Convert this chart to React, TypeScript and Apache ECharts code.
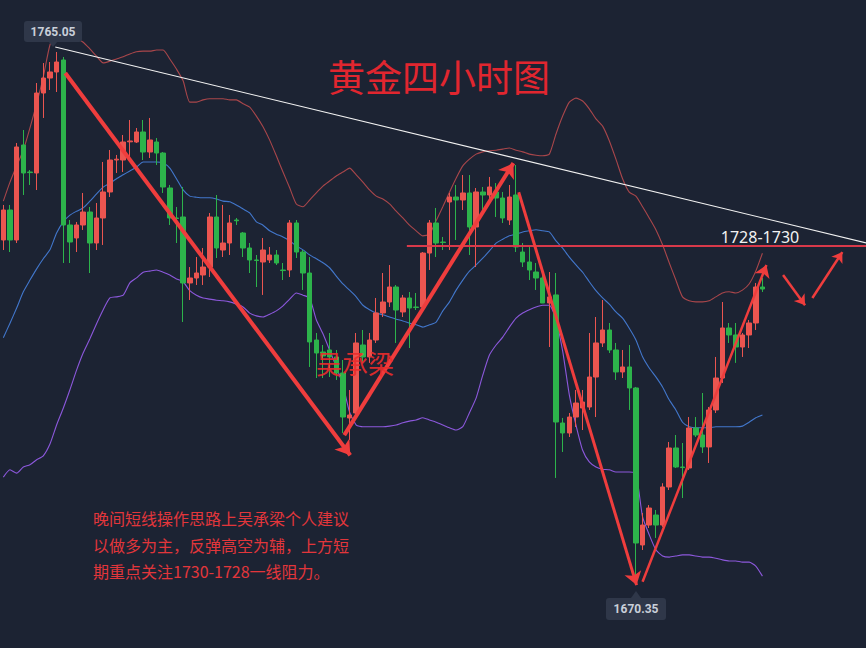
import { useEffect, useRef } from 'react';
import * as echarts from 'echarts';

// 4-hour gold candles: [open, close, low, high]
const candles: number[][] = [
  [1731.46, 1736.82, 1729.67, 1737.72], [1736.82, 1731.46, 1729.31, 1737.72], [1731.46, 1748.08, 1730.92, 1748.79],
  [1748.43, 1743.43, 1739.5, 1751.11], [1743.61, 1743.5, 1741.29, 1743.97], [1743.43, 1757.72, 1740.39, 1759.51],
  [1757.72, 1760.4, 1753.26, 1763.08], [1760.4, 1761.48, 1758.26, 1763.26], [1761.48, 1763.26, 1757.9, 1765.05],
  [1763.62, 1734.14, 1727.35, 1764.16], [1734.14, 1731.1, 1727.35, 1735.03], [1731.82, 1734.14, 1729.31, 1734.68],
  [1734.14, 1736.46, 1733.25, 1739.86], [1736.46, 1730.92, 1725.56, 1737.36], [1730.92, 1735.39, 1729.67, 1738.07],
  [1735.39, 1740.04, 1730.57, 1745.4], [1740.04, 1745.75, 1739.14, 1747.54], [1745.75, 1745.9, 1743.43, 1746.65],
  [1745.75, 1748.97, 1743.61, 1750.22], [1749.0, 1749.15, 1746.29, 1752.9], [1748.97, 1750.76, 1748.79, 1751.47],
  [1750.76, 1747.18, 1745.75, 1752.9], [1747.18, 1749.33, 1746.11, 1753.26], [1748.97, 1747.0, 1744.86, 1749.68],
  [1747.0, 1740.93, 1739.86, 1747.18], [1740.75, 1735.39, 1734.14, 1741.29], [1735.39, 1735.3, 1730.92, 1737.36],
  [1735.57, 1723.78, 1716.81, 1740.93], [1723.78, 1724.67, 1720.74, 1726.63], [1724.67, 1725.56, 1723.42, 1728.42],
  [1725.21, 1726.63, 1723.42, 1730.03], [1726.63, 1735.57, 1724.85, 1736.28], [1735.57, 1730.03, 1728.24, 1739.5],
  [1729.67, 1730.92, 1728.42, 1737.72], [1730.92, 1734.5, 1728.78, 1735.93], [1735.03, 1734.9, 1734.14, 1735.39],
  [1732.71, 1730.03, 1728.42, 1732.89], [1730.03, 1727.89, 1725.56, 1730.92], [1727.89, 1727.8, 1723.06, 1728.78],
  [1727.53, 1729.67, 1721.64, 1731.82], [1727.89, 1728.78, 1727.35, 1730.21], [1728.78, 1727.35, 1726.99, 1729.67],
  [1726.1, 1726.0, 1724.31, 1727.35], [1726.1, 1734.5, 1724.85, 1735.03], [1734.5, 1729.31, 1728.24, 1735.03],
  [1729.31, 1725.56, 1722.53, 1729.67], [1725.56, 1713.24, 1708.77, 1728.42], [1713.59, 1711.27, 1706.8, 1714.84],
  [1711.45, 1710.74, 1706.8, 1712.7], [1711.81, 1710.56, 1706.98, 1714.84], [1710.56, 1707.7, 1706.45, 1711.81],
  [1707.7, 1699.83, 1696.98, 1710.02], [1699.66, 1700.19, 1695.73, 1704.66], [1700.55, 1713.06, 1699.83, 1714.84],
  [1712.7, 1710.56, 1709.5, 1715.38], [1710.56, 1713.59, 1709.5, 1714.84], [1713.59, 1718.42, 1713.06, 1721.1],
  [1718.42, 1720.38, 1717.7, 1725.56], [1720.38, 1723.06, 1719.49, 1726.99], [1723.06, 1718.95, 1713.06, 1723.42],
  [1718.6, 1721.1, 1717.7, 1721.64], [1721.1, 1719.31, 1712.16, 1722.17], [1719.49, 1719.4, 1718.95, 1721.99],
  [1719.49, 1729.13, 1719.31, 1729.31], [1729.13, 1734.5, 1726.1, 1735.03], [1734.5, 1730.92, 1728.42, 1737.18],
  [1731.1, 1731.0, 1729.67, 1732.0], [1738.25, 1739.14, 1729.67, 1739.86], [1739.14, 1738.61, 1731.46, 1741.29],
  [1738.61, 1739.86, 1736.82, 1743.07], [1739.86, 1733.78, 1728.78, 1743.07], [1733.78, 1740.04, 1726.63, 1740.75],
  [1740.04, 1739.5, 1736.82, 1740.93], [1739.5, 1740.93, 1738.61, 1742.72], [1740.04, 1738.96, 1735.57, 1741.64],
  [1738.96, 1735.39, 1734.5, 1740.04], [1735.03, 1739.14, 1734.14, 1741.29], [1739.5, 1730.21, 1729.31, 1744.86],
  [1729.31, 1727.53, 1726.63, 1730.92], [1727.53, 1726.1, 1724.31, 1730.21], [1725.74, 1724.67, 1722.53, 1727.35],
  [1724.67, 1720.2, 1720.2, 1726.1], [1720.2, 1721.28, 1712.34, 1725.74], [1721.64, 1698.94, 1688.94, 1725.56],
  [1698.76, 1696.98, 1693.58, 1699.66], [1696.98, 1699.83, 1696.26, 1700.55], [1699.83, 1702.33, 1698.05, 1704.66],
  [1701.44, 1702.51, 1697.51, 1704.66], [1701.62, 1706.98, 1701.09, 1714.84], [1706.98, 1713.06, 1699.83, 1717.7],
  [1713.06, 1715.38, 1712.34, 1720.74], [1715.38, 1711.81, 1711.27, 1716.63], [1711.81, 1707.88, 1706.45, 1713.06],
  [1707.88, 1708.77, 1706.8, 1711.81], [1708.77, 1705.02, 1701.09, 1712.7], [1705.02, 1677.32, 1670.35, 1705.2],
  [1676.97, 1680.53, 1676.07, 1682.68], [1680.53, 1683.57, 1680.0, 1684.1], [1682.32, 1680.53, 1678.22, 1683.22],
  [1680.53, 1687.33, 1680.2, 1688.0], [1687.33, 1694.3, 1686.79, 1695.37], [1694.3, 1690.9, 1690.72, 1696.62],
  [1690.9, 1690.8, 1685.36, 1695.19], [1690.72, 1697.87, 1690.37, 1699.83], [1697.87, 1696.62, 1696.26, 1699.83],
  [1696.62, 1694.48, 1693.4, 1704.12], [1694.48, 1701.09, 1691.62, 1701.62], [1701.09, 1706.8, 1700.55, 1710.56],
  [1706.8, 1715.74, 1705.91, 1720.38], [1715.74, 1714.49, 1713.06, 1716.63], [1714.49, 1712.34, 1709.5, 1716.63],
  [1712.34, 1714.49, 1710.56, 1714.84], [1714.49, 1716.63, 1712.16, 1717.17], [1716.63, 1723.06, 1715.38, 1723.78],
  [1723.06, 1722.7, 1722.17, 1724.67],
];

// Bollinger bands
const upperBand = [
  1738.4, 1741.8, 1744.7, 1747.5, 1751.5, 1755.8, 1760.6, 1766.3, 1768.6, 1768.1,
  1767.7, 1767.4, 1766.8, 1765.6, 1764.3, 1763.1, 1763.4, 1763.8, 1764.2, 1764.7,
  1765.1, 1765.2, 1765.2, 1765.4, 1765.4, 1763.8, 1762.0, 1759.9, 1756.1, 1756.1,
  1756.5, 1756.7, 1756.7, 1756.7, 1756.5, 1756.5, 1755.8, 1755.2, 1753.6, 1751.7,
  1749.3, 1746.5, 1743.6, 1740.8, 1737.9, 1737.4, 1738.6, 1739.9, 1741.1, 1742.0,
  1742.9, 1743.6, 1744.3, 1743.1, 1741.8, 1740.4, 1739.3, 1738.8, 1737.9, 1736.6,
  1735.4, 1734.1, 1733.1, 1732.2, 1732.5, 1734.9, 1737.4, 1740.0, 1742.5, 1744.7,
  1745.9, 1746.8, 1747.2, 1747.4, 1747.5, 1747.7, 1747.9, 1747.5, 1747.2, 1746.8,
  1746.6, 1746.5, 1746.8, 1750.4, 1753.6, 1756.1, 1756.8, 1756.3, 1754.9, 1753.1,
  1751.8, 1749.2, 1745.9, 1742.4, 1740.0, 1739.3, 1737.4, 1735.4, 1733.3, 1730.6,
  1727.4, 1724.3, 1721.3, 1720.6, 1720.4, 1720.4, 1720.6, 1721.3, 1722.0, 1722.2,
  1722.0, 1722.5, 1723.6, 1725.9, 1729.1,
];
const middleBand = [
  1714.0, 1716.6, 1719.3, 1722.2, 1724.3, 1726.3, 1728.1, 1729.7, 1732.7, 1734.7,
  1735.9, 1736.6, 1737.2, 1738.4, 1739.7, 1740.9, 1741.6, 1742.4, 1743.1, 1743.8,
  1744.5, 1745.4, 1745.4, 1745.4, 1745.2, 1744.3, 1742.4, 1740.4, 1739.3, 1739.1,
  1739.0, 1739.0, 1738.8, 1738.4, 1738.3, 1737.7, 1737.0, 1736.3, 1734.7, 1734.1,
  1733.1, 1732.5, 1732.0, 1731.3, 1730.4, 1729.7, 1728.8, 1728.1, 1727.4, 1726.5,
  1725.0, 1723.6, 1722.5, 1721.3, 1719.8, 1719.0, 1718.4, 1718.1, 1717.7, 1717.3,
  1717.0, 1716.6, 1716.3, 1715.9, 1716.3, 1716.8, 1718.8, 1720.4, 1722.5, 1724.3,
  1725.9, 1727.0, 1728.2, 1729.5, 1730.9, 1731.6, 1732.2, 1732.5, 1732.9, 1733.1,
  1733.3, 1733.1, 1732.9, 1731.3, 1730.0, 1728.4, 1727.0, 1725.7, 1724.0, 1722.4,
  1721.1, 1720.0, 1718.6, 1717.5, 1715.7, 1713.6, 1710.6, 1708.6, 1707.0, 1705.2,
  1702.9, 1701.1, 1698.9, 1698.1, 1697.9, 1697.9, 1697.9, 1698.1, 1698.1, 1698.1,
  1698.1, 1698.2, 1698.9, 1699.7, 1700.2,
];
const lowerBand = [
  1689.1, 1690.4, 1689.8, 1690.9, 1691.3, 1692.2, 1692.9, 1695.0, 1698.4, 1701.4,
  1704.7, 1708.2, 1711.3, 1713.8, 1716.5, 1719.0, 1721.1, 1721.3, 1721.6, 1723.8,
  1724.7, 1725.7, 1725.9, 1726.1, 1725.7, 1725.2, 1724.5, 1724.0, 1722.4, 1721.6,
  1721.1, 1720.9, 1720.7, 1720.6, 1720.4, 1720.0, 1719.5, 1718.4, 1717.9, 1717.7,
  1718.2, 1718.8, 1719.7, 1720.9, 1722.0, 1721.6, 1721.1, 1717.2, 1714.7, 1711.8,
  1708.8, 1705.6, 1700.7, 1698.4, 1698.1, 1698.1, 1698.1, 1698.1, 1698.2, 1698.4,
  1698.8, 1699.1, 1699.3, 1699.7, 1699.3, 1698.9, 1698.4, 1697.9, 1697.5, 1698.1,
  1700.6, 1703.2, 1707.3, 1710.9, 1712.7, 1714.1, 1715.9, 1717.5, 1718.4, 1719.0,
  1719.5, 1719.8, 1719.8, 1717.2, 1711.6, 1703.8, 1698.4, 1693.9, 1691.8, 1690.9,
  1690.5, 1690.4, 1690.0, 1690.0, 1690.0, 1689.7, 1682.0, 1678.8, 1676.1, 1675.0,
  1674.8, 1675.0, 1675.2, 1675.2, 1675.0, 1674.8, 1674.8, 1674.6, 1674.3, 1674.1,
  1674.1, 1673.9, 1673.9, 1673.2, 1671.4,
];

// 130 bar slots (115 drawn, the rest is empty space on the right)
const categories = Array.from({ length: 130 }, (_, i) => `K${i + 1}`);

// annotation lines in [bar index, price]
const trendLine = [[7.8, 1765.94], [129.6, 1730.92]];
const resistanceLine = [[60.6, 1730.39], [129.6, 1730.39]];
// [x1, y1, x2, y2, width, head]
const arrows = [
  [9.3, 1761.3, 52.1, 1693.0, 4, 14],
  [51.2, 1696.6, 76.6, 1745.2, 4, 14],
  [77.4, 1740.0, 95.1, 1669.8, 3, 13],
  [96.0, 1670.4, 114.6, 1727.0, 2.5, 12],
  [117.1, 1725.2, 120.4, 1719.8, 2.5, 10],
  [121.5, 1721.1, 126.0, 1729.3, 2.5, 10],
];

const highLabel = '1765.05';
const lowLabel = '1670.35';
const title = '黄金四小时图';
const author = '吴承梁';
const zoneLabel = '1728-1730';
const notes = ['晚间短线操作思路上吴承梁个人建议', '以做多为主，反弹高空为辅，上方短', '期重点关注1730-1728一线阻力。'];

const RED = '#eb5550';
const GREEN = '#2db34b';
const CJK = '"Noto Sans CJK SC", "Noto Sans", sans-serif';

export default function App() {
  const ref = useRef<HTMLDivElement>(null);
  useEffect(() => {
    if (!ref.current) return;
    const chart = echarts.init(ref.current, null, { renderer: 'svg' });
    const bandLine = (name: string, data: number[], color: string) => ({
      name,
      type: 'line',
      data,
      xAxisIndex: 0,
      showSymbol: false,
      symbol: 'none',
      smooth: 0.2,
      silent: true,
      z: 2,
      lineStyle: { color, width: 1.1 },
    });
    chart.setOption({
      animation: false,
      backgroundColor: '#1c2333',
      grid: { left: -3.54, top: 0, width: 869.18, height: 648, containLabel: false },
      xAxis: [
        { type: 'category', data: categories, show: false, boundaryGap: true, gridIndex: 0 },
        { type: 'value', min: -0.5, max: 129.5, show: false, gridIndex: 0 },
      ],
      yAxis: { type: 'value', min: 1658.56, max: 1774.34, show: false, splitLine: { show: false } },
      series: [
        bandLine('上轨', upperBand, 'rgba(184,74,78,0.9)'),
        bandLine('中轨', middleBand, '#4277cc'),
        bandLine('下轨', lowerBand, '#8c58dc'),
        {
          name: 'K线',
          type: 'candlestick',
          data: candles,
          xAxisIndex: 0,
          barWidth: 5,
          z: 3,
          silent: true,
          itemStyle: { color: RED, color0: GREEN, borderColor: RED, borderColor0: GREEN, borderWidth: 1 },
        },
        {
          name: '趋势线',
          type: 'line',
          xAxisIndex: 1,
          data: trendLine,
          symbol: 'none',
          silent: true,
          z: 4,
          lineStyle: { color: '#f2f2f2', width: 1.1 },
        },
        {
          name: '阻力线',
          type: 'line',
          xAxisIndex: 1,
          data: resistanceLine,
          symbol: 'none',
          silent: true,
          z: 4,
          lineStyle: { color: '#d8394a', width: 2 },
          markLine: {
            silent: true,
            symbol: ['none', 'arrow'],
            symbolSize: 13,
            label: { show: false },
            emphasis: { disabled: true },
            lineStyle: { color: '#ef3d3d', type: 'solid', width: 3, opacity: 1 },
            data: arrows.map((a) => [
              { coord: [a[0], a[1]], lineStyle: { width: a[4], color: '#ef3d3d', type: 'solid' } },
              { coord: [a[2], a[3]], symbolSize: a[5] },
            ]),
          },
        },
      ],
      graphic: [
        {
          type: 'text', x: 439, y: 76, z: 10,
          style: { text: title, fontSize: 37, fontFamily: CJK, fill: '#e1262f', align: 'center', verticalAlign: 'middle' },
        },
        {
          type: 'text', x: 355, y: 362, z: 10,
          style: { text: author, fontSize: 26, fontFamily: CJK, fill: 'rgba(236,44,44,0.92)', align: 'center', verticalAlign: 'middle' },
        },
        {
          type: 'text', x: 760, y: 237, z: 10,
          style: { text: zoneLabel, fontSize: 16, fontFamily: '"Noto Sans", sans-serif', fill: '#f2f2f2', align: 'center', verticalAlign: 'middle' },
        },
        ...notes.map((t, i) => ({
          type: 'text', x: 93, y: 518 + i * 26.5, z: 10,
          style: { text: t, fontSize: 16, fontFamily: CJK, fill: '#e2363b', align: 'left', verticalAlign: 'middle' },
        })),
        { type: 'polygon', z: 10, shape: { points: [[48, 41], [58, 41], [53, 47]] }, style: { fill: '#2f3749' } },
        { type: 'rect', z: 10, shape: { x: 24, y: 21, width: 58, height: 21, r: 3 }, style: { fill: '#2f3749' } },
        {
          type: 'text', x: 53, y: 31.5, z: 11,
          style: { text: highLabel, fontSize: 12, fontWeight: 'bold', fontFamily: 'Roboto, sans-serif', fill: '#c9cfd9', align: 'center', verticalAlign: 'middle' },
        },
        { type: 'polygon', z: 10, shape: { points: [[631, 598], [641, 598], [636, 591]] }, style: { fill: '#2f3749' } },
        { type: 'rect', z: 10, shape: { x: 606, y: 598, width: 60, height: 22, r: 3 }, style: { fill: '#2f3749' } },
        {
          type: 'text', x: 636, y: 609, z: 11,
          style: { text: lowLabel, fontSize: 12, fontWeight: 'bold', fontFamily: 'Roboto, sans-serif', fill: '#c9cfd9', align: 'center', verticalAlign: 'middle' },
        },
      ],
    });
    return () => chart.dispose();
  }, []);
  return <div ref={ref} style={{ position: 'fixed', left: 0, top: 0, width: 866, height: 648 }} />;
}
